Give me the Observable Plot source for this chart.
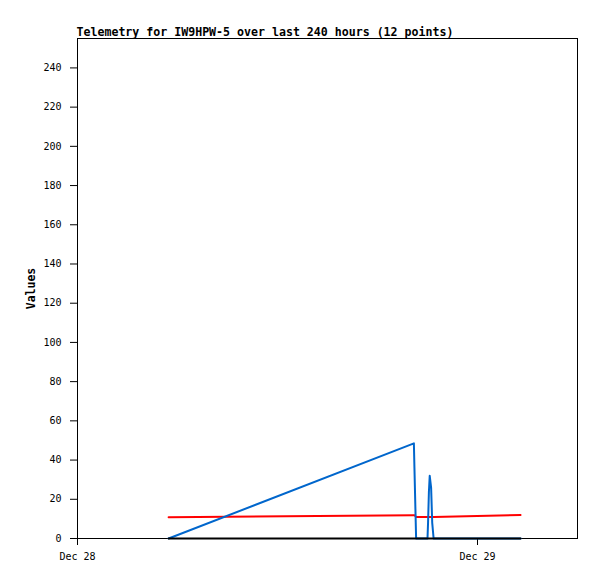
<!DOCTYPE html>
<html>
<head>
<meta charset="utf-8">
<script src="https://cdn.jsdelivr.net/npm/d3@7"></script>
<script src="https://cdn.jsdelivr.net/npm/@observablehq/plot@0.6"></script>
<style>
  html, body { margin: 0; padding: 0; background: #fff; }
  #chart { width: 597px; height: 579px; }
</style>
</head>
<body>
<div id="chart"></div>
<script>
const titleText = "Telemetry for IW9HPW-5 over last 240 hours (12 points)";
const yLabel = "Values";
const times = [
  "2023-12-28T05:28Z", "2023-12-28T20:11Z", "2023-12-28T20:13Z", "2023-12-28T20:19Z",
  "2023-12-28T21:00Z", "2023-12-28T21:02Z", "2023-12-28T21:05Z", "2023-12-28T21:08Z",
  "2023-12-28T21:13Z", "2023-12-28T21:17Z", "2023-12-28T21:22Z", "2023-12-29T02:35Z"
];
const seriesBlue  = [0, 48.5, 36, 0, 0, 8, 23.6, 32, 26, 8, 0, 0];
const seriesRed   = [10.8, 11.9, 11.9, 11.0, 11.0, 11.0, 11.0, 11.0, 11.0, 11.0, 11.0, 12.0];
const seriesBlack = [0, 0, 0, 0, 0, 0, 0, 0, 0, 0, 0, 0];
const yTicks = [0, 20, 40, 60, 80, 100, 120, 140, 160, 180, 200, 220, 240];
const xTicks = ["2023-12-28T00:00Z", "2023-12-29T00:00Z"];
const xDomain = ["2023-12-28T00:00Z", "2023-12-29T06:00Z"];
const yDomain = [0, 255];

const parse = s => new Date(s);
const mk = vals => times.map((t, i) => ({t: parse(t), v: vals[i]}));
const blue = mk(seriesBlue), red = mk(seriesRed), black = mk(seriesBlack);

const chart = Plot.plot({
  width: 597,
  height: 579,
  marginLeft: 77,
  marginRight: 20,
  marginTop: 38,
  marginBottom: 41,
  style: {fontFamily: "'DejaVu Sans Mono', monospace", fontSize: "10px", color: "black", background: "white"},
  x: {type: "utc", domain: xDomain.map(parse)},
  y: {domain: yDomain},
  marks: [
    Plot.frame({stroke: "black", strokeWidth: 1}),
    Plot.axisY({ticks: yTicks, tickSize: 7, tickPadding: 9, label: null, stroke: "black", strokeOpacity: 1}),
    Plot.axisX({ticks: xTicks.map(parse), tickFormat: d3.utcFormat("%b %d"), tickSize: 7, tickPadding: 7, label: null, strokeOpacity: 1}),
    Plot.lineY(red, {x: "t", y: "v", stroke: "#ff0000", strokeWidth: 2}),
    Plot.lineY(blue, {x: "t", y: "v", stroke: "#0066cc", strokeWidth: 2}),
    Plot.lineY(black, {x: "t", y: "v", stroke: "#000000", strokeWidth: 2}),
    Plot.text([titleText], {frameAnchor: "top-left", text: d => d, textAnchor: "start", lineAnchor: "bottom", dx: -1, dy: -3, fontWeight: "bold", fontSize: 11.6}),
    Plot.text([yLabel], {frameAnchor: "left", text: d => d, rotate: -90, textAnchor: "middle", dx: -46, fontWeight: "bold", fontSize: 11.5})
  ]
});
document.getElementById("chart").appendChild(chart);
</script>
</body>
</html>
